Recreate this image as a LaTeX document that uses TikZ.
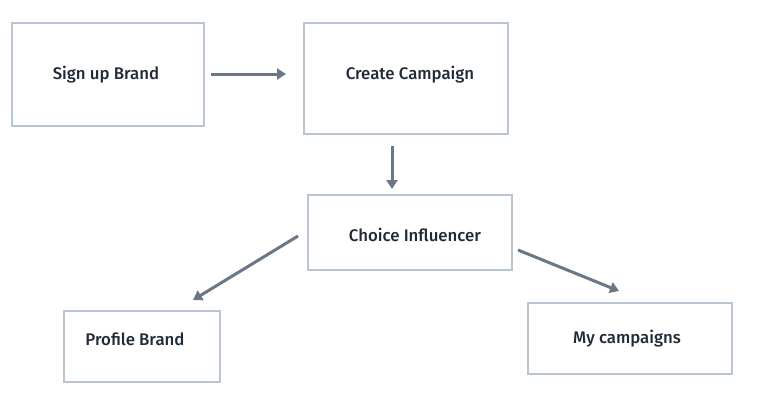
\documentclass[tikz,border=0pt]{standalone}
\usepackage{fontspec}
\setmainfont{Fira Sans Medium}
\usetikzlibrary{arrows.meta}
\definecolor{boxline}{HTML}{B9C5D0}
\definecolor{arrowc}{HTML}{6A7886}
\definecolor{txt}{HTML}{1F2B38}
\tikzset{
  box/.style={draw=boxline, line width=1.6pt, fill=white},
  lbl/.style={text=txt, font=\fontsize{16.8}{19}\selectfont, inner sep=0pt},
  conn/.style={draw=arrowc, line width=3pt, -{Triangle[length=9pt,width=11pt]}}
}
\begin{document}
\begin{tikzpicture}[x=1pt,y=-1pt]
\useasboundingbox (0,0) rectangle (781,407);
\fill[white] (0,0) rectangle (781,407);
% boxes
\draw[box] (12,23) rectangle (204,126);
\draw[box] (304,23) rectangle (508,134);
\draw[box] (308,195) rectangle (512,270);
\draw[box] (64,311) rectangle (220,382);
\draw[box] (528,303) rectangle (732,374);
% named box anchors
\coordinate (b1e) at (211,74);
\coordinate (b2w) at (286,74);
\coordinate (b2s) at (392,146);
\coordinate (b3n) at (392,189);
\coordinate (b3w) at (298,236);
\coordinate (b4n) at (193,300);
\coordinate (b3e) at (518,250);
\coordinate (b5n) at (619,291);
% labels
\node[lbl] (t1) at (106,75) {Sign up Brand};
\node[lbl] (t2) at (410,75) {Create Campaign};
\node[lbl] (t3) at (415,235) {Choice Influencer};
\node[lbl] (t4) at (135,339) {Profile Brand};
\node[lbl] (t5) at (627,339) {My campaigns};
% connectors
\draw[conn] (b1e) -- (b2w);
\draw[conn] (b2s) -- (b3n);
\draw[conn] (b3w) -- (b4n);
\draw[conn] (b3e) -- (b5n);
\end{tikzpicture}
\end{document}
